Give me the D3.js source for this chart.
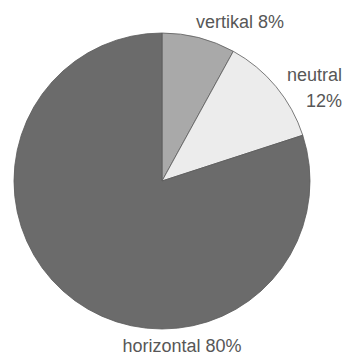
<!DOCTYPE html>
<html>
<head>
<meta charset="utf-8">
<script src="https://cdn.jsdelivr.net/npm/d3@7"></script>
<style>
  html, body { margin: 0; padding: 0; background: #fff; }
  svg { display: block; }
  text { font-family: "Liberation Sans", Arial, sans-serif; fill: #575757; }
</style>
</head>
<body>
<svg id="chart" width="343" height="355"></svg>
<script>
// Share of orientations (percent), drawn clockwise from 12 o'clock
const categories = ["vertikal", "neutral", "horizontal"];
const shares = [8, 12, 80];
const fills = ["#a9a9a9", "#ececec", "#6b6b6b"];

const svg = d3.select("#chart");
const cx = 162, cy = 181, radius = 148;

const pie = d3.pie().sort(null).value(d => d.value);
const arcs = pie(categories.map((c, i) => ({ name: c, value: shares[i], fill: fills[i] })));
const arc = d3.arc().innerRadius(0).outerRadius(radius);

const g = svg.append("g").attr("transform", `translate(${cx},${cy})`);
g.selectAll("path")
  .data(arcs)
  .join("path")
  .attr("d", arc)
  .attr("fill", d => d.data.fill)
  .attr("stroke", "#5a5a5a")
  .attr("stroke-width", 0.8);

// Labels placed outside the pie
const fs = 18;
svg.append("text").attr("x", 240).attr("y", 28).attr("text-anchor", "middle")
  .attr("font-size", fs).text(`${categories[0]} ${shares[0]}%`);
svg.append("text").attr("x", 342).attr("y", 81).attr("text-anchor", "end")
  .attr("font-size", fs).text(categories[1]);
svg.append("text").attr("x", 342).attr("y", 107).attr("text-anchor", "end")
  .attr("font-size", fs).text(`${shares[1]}%`);
svg.append("text").attr("x", 182).attr("y", 352).attr("text-anchor", "middle")
  .attr("font-size", fs).text(`${categories[2]} ${shares[2]}%`);
</script>
</body>
</html>
